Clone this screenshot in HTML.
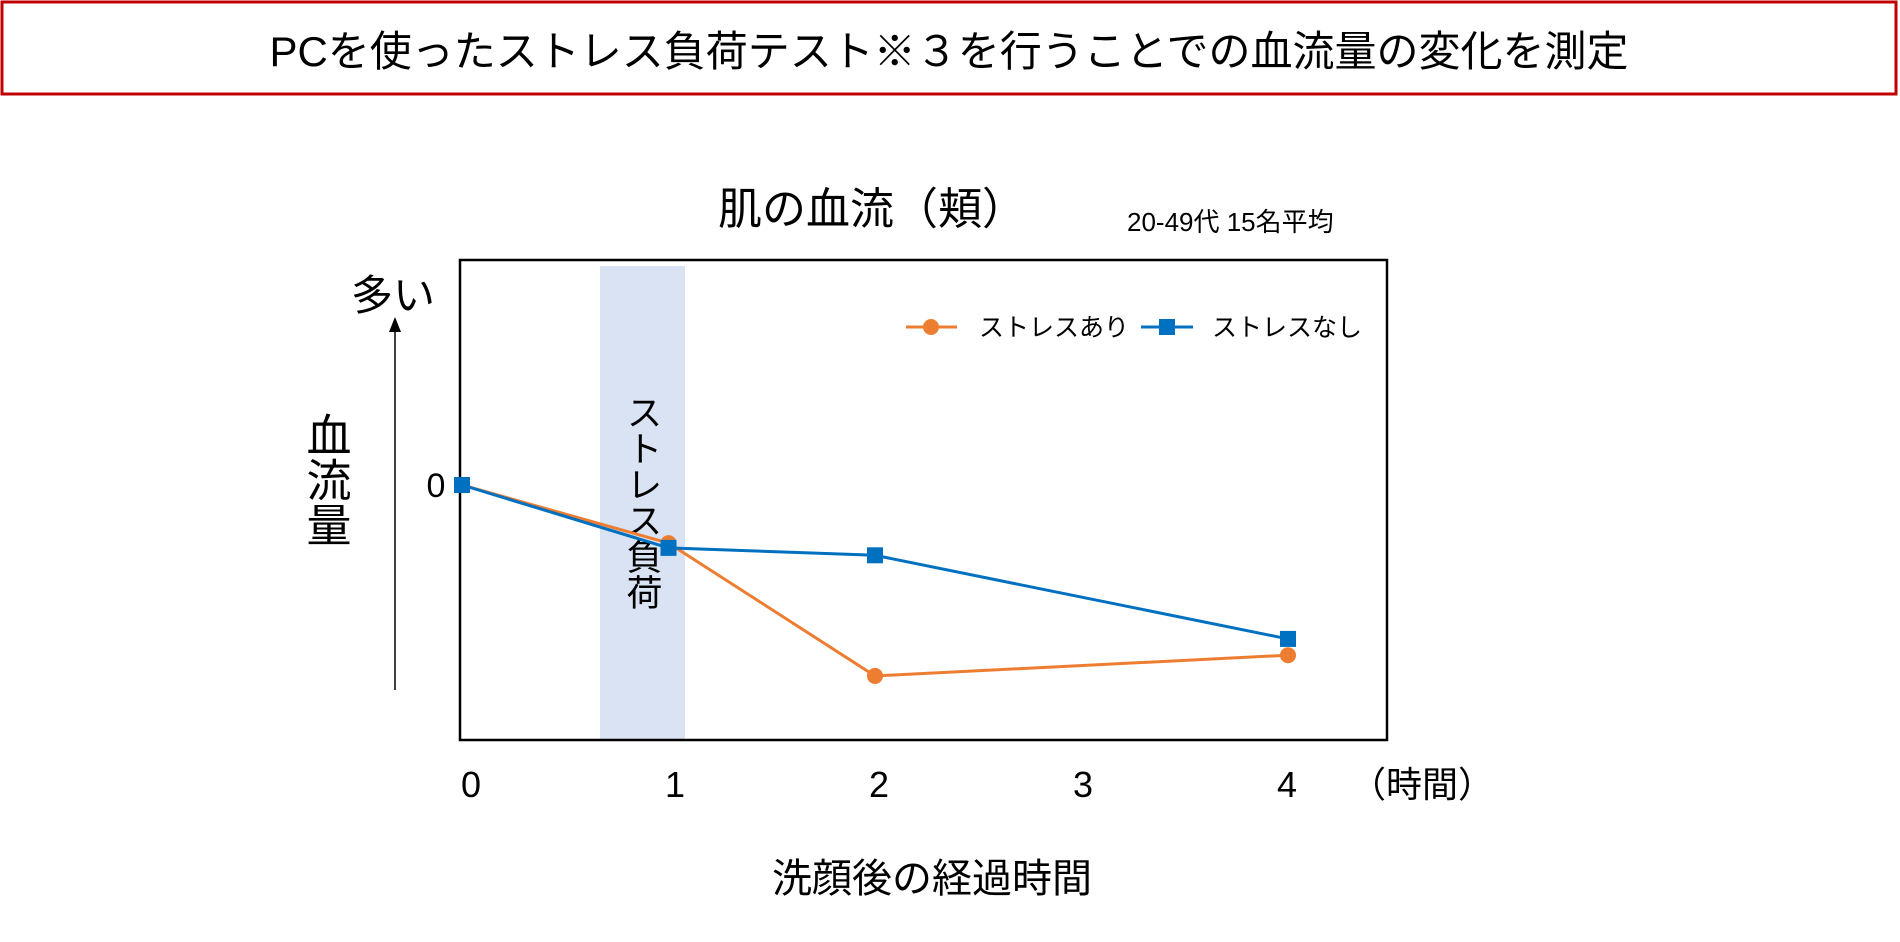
<!DOCTYPE html>
<html><head><meta charset="utf-8"><style>
body{margin:0;width:1900px;height:937px;background:#fff;overflow:hidden;font-family:"Liberation Sans","Noto Sans CJK JP",sans-serif;}
</style></head><body>
<svg width="1900" height="937" xmlns="http://www.w3.org/2000/svg" font-family="Liberation Sans, Noto Sans CJK JP, sans-serif">
<rect x="2" y="2" width="1894" height="92" fill="#fff" stroke="#c00000" stroke-width="3"/>
<text x="949" y="66" font-size="42" text-anchor="middle" fill="#000">PCを使ったストレス負荷テスト※３を行うことでの血流量の変化を測定</text>
<text x="872" y="224" font-size="44" text-anchor="middle">肌の血流（頬）</text>
<text x="1127" y="231" font-size="26">20-49代 15名平均</text>
<rect x="600" y="266" width="85" height="474" fill="#dae3f3"/>
<text x="642" y="394" font-size="36" writing-mode="tb" style="writing-mode:vertical-rl">ストレス負荷</text>
<rect x="460" y="260" width="927" height="480" fill="none" stroke="#000" stroke-width="2.5"/>
<text x="351" y="310" font-size="42">多い</text>
<line x1="395" y1="690" x2="395" y2="330" stroke="#000" stroke-width="1.5"/>
<polygon points="395,317 389,332 401,332" fill="#000"/>
<text x="325" y="412" font-size="45" style="writing-mode:vertical-rl" writing-mode="tb">血流量</text>
<text x="436" y="497" font-size="34" text-anchor="middle">0</text>
<g id="xt"></g>
<text x="1350" y="797" font-size="36">（時間）</text>
<text x="932" y="892" font-size="40" text-anchor="middle">洗顔後の経過時間</text>
<g id="series"></g>
<g>
<line x1="906" y1="327" x2="957" y2="327" stroke="#ed7d31" stroke-width="3"/>
<circle cx="931" cy="327" r="8" fill="#ed7d31"/>
<text x="979" y="336" font-size="25">ストレスあり</text>
<line x1="1141" y1="327" x2="1193" y2="327" stroke="#0070c0" stroke-width="3"/>
<rect x="1159" y="319" width="16" height="16" fill="#0070c0"/>
<text x="1212" y="336" font-size="25">ストレスなし</text>
</g>
</svg>
<script>
const xTicks=["0","1","2","3","4"];
const xOrange=[0,1,2,4];
const orange=[0,-15.7,-51.6,-46];
const xBlue=[0,1,2,4];
const blue=[0,-17,-19,-41.6];
const NS="http://www.w3.org/2000/svg";
function xs(v){return 462+v*206.5;}
function xl(v){return 471+v*204;}
function ys(v){return 485-v*3.7;}
const xt=document.getElementById('xt');
xTicks.forEach((t,i)=>{const e=document.createElementNS(NS,'text');
e.setAttribute('x',xl(i));e.setAttribute('y',797);e.setAttribute('font-size','36');e.setAttribute('text-anchor','middle');e.textContent=t;


xt.appendChild(e);});
const g=document.getElementById('series');
function draw(xsArr,vals,color,shape,name){
const p=document.createElementNS(NS,'polyline');
p.setAttribute('points',xsArr.map((x,i)=>xs(x)+','+ys(vals[i])).join(' '));
p.setAttribute('fill','none');p.setAttribute('stroke',color);p.setAttribute('stroke-width','3');


g.appendChild(p);
xsArr.forEach((x,i)=>{let m;
if(shape==='c'){m=document.createElementNS(NS,'circle');m.setAttribute('cx',xs(x));m.setAttribute('cy',ys(vals[i]));m.setAttribute('r',8);}
else{m=document.createElementNS(NS,'rect');m.setAttribute('x',xs(x)-8);m.setAttribute('y',ys(vals[i])-8);m.setAttribute('width',16);m.setAttribute('height',16);}
m.setAttribute('fill',color);


g.appendChild(m);});
}
draw(xOrange,orange,'#ed7d31','c','stress-series');
draw(xBlue,blue,'#0070c0','s','no-stress-series');
</script>
</body></html>
